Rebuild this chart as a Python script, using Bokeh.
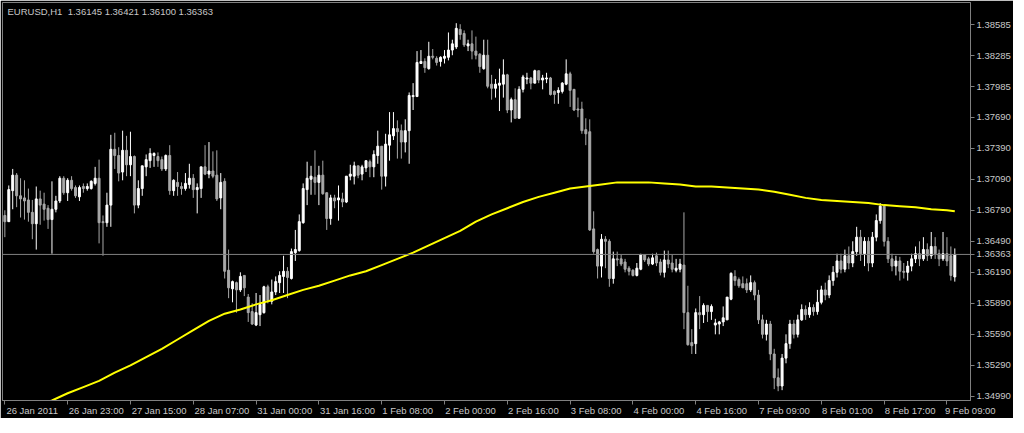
from bokeh.plotting import figure
from bokeh.models import (Range1d, FixedTicker, Span, Label, ColumnDataSource,
                          PrintfTickFormatter, LinearAxis)
from bokeh.embed import file_html
from bokeh.resources import INLINE

symbol = "EURUSD,H1"

opens = [1.3674, 1.3668, 1.3698, 1.3713, 1.3693, 1.3691, 1.3689, 1.3677, 1.3666, 1.3690,
         1.3685, 1.3681, 1.3670, 1.3680, 1.3688, 1.3710, 1.3696, 1.3708, 1.3701, 1.3692,
         1.3702, 1.3700, 1.3700, 1.3705, 1.3710, 1.3668, 1.3667, 1.3684, 1.3738, 1.3732,
         1.3716, 1.3737, 1.3723, 1.3731, 1.3684, 1.3700, 1.3721, 1.3727, 1.3732, 1.3731,
         1.3728, 1.3719, 1.3732, 1.3698, 1.3706, 1.3702, 1.3700, 1.3704, 1.3710, 1.3699,
         1.3700, 1.3721, 1.3714, 1.3717, 1.3713, 1.3691, 1.3707, 1.3621, 1.3603, 1.3609,
         1.3602, 1.3616, 1.3595, 1.3581, 1.3568, 1.3578, 1.3580, 1.3605, 1.3591, 1.3600,
         1.3609, 1.3615, 1.3620, 1.3613, 1.3638, 1.3640, 1.3667, 1.3699, 1.3709, 1.3711,
         1.3706, 1.3713, 1.3696, 1.3671, 1.3691, 1.3689, 1.3690, 1.3687, 1.3712, 1.3712,
         1.3722, 1.3714, 1.3720, 1.3726, 1.3721, 1.3732, 1.3741, 1.3712, 1.3742, 1.3751,
         1.3758, 1.3756, 1.3745, 1.3756, 1.3789, 1.3789, 1.3821, 1.3823, 1.3816, 1.3828,
         1.3826, 1.3823, 1.3826, 1.3827, 1.3834, 1.3837, 1.3854, 1.3850, 1.3838, 1.3840,
         1.3833, 1.3830, 1.3816, 1.3829, 1.3801, 1.3797, 1.3800, 1.3801, 1.3810, 1.3776,
         1.3786, 1.3768, 1.3796, 1.3806, 1.3807, 1.3802, 1.3814, 1.3805, 1.3806, 1.3807,
         1.3794, 1.3793, 1.3794, 1.3801, 1.3811, 1.3796, 1.3777, 1.3777, 1.3757, 1.3755,
         1.3661, 1.3641, 1.3625, 1.3651, 1.3649, 1.3613, 1.3632, 1.3632, 1.3629, 1.3623,
         1.3621, 1.3616, 1.3622, 1.3636, 1.3632, 1.3627, 1.3635, 1.3629, 1.3619, 1.3631,
         1.3628, 1.3621, 1.3622, 1.3626, 1.3580, 1.3551, 1.3550, 1.3580, 1.3578, 1.3587,
         1.3581, 1.3568, 1.3569, 1.3571, 1.3573, 1.3593, 1.3615, 1.3612, 1.3608, 1.3608,
         1.3602, 1.3609, 1.3597, 1.3573, 1.3559, 1.3569, 1.3540, 1.3517, 1.3509, 1.3536,
         1.3550, 1.3569, 1.3559, 1.3573, 1.3583, 1.3578, 1.3585, 1.3581, 1.3590, 1.3602,
         1.3597, 1.3611, 1.3619, 1.3630, 1.3622, 1.3635, 1.3628, 1.3639, 1.3653, 1.3637,
         1.3649, 1.3628, 1.3653, 1.3669, 1.3683, 1.3649, 1.3632, 1.3625, 1.3630, 1.3620,
         1.3619, 1.3625, 1.3632, 1.3637, 1.3632, 1.3641, 1.3635, 1.3644, 1.3637, 1.3632,
         1.3637, 1.3635, 1.36145]

highs = [1.3679, 1.3703, 1.3719, 1.3715, 1.3710, 1.3708, 1.3700, 1.3689, 1.3702, 1.3698,
         1.3696, 1.3684, 1.3707, 1.3693, 1.3712, 1.3712, 1.3710, 1.3712, 1.3703, 1.3703,
         1.3705, 1.3705, 1.3708, 1.3721, 1.3728, 1.3674, 1.3696, 1.3752, 1.3754, 1.3740,
         1.3756, 1.3751, 1.3755, 1.3732, 1.3708, 1.3722, 1.3733, 1.3739, 1.3735, 1.3735,
         1.3731, 1.3733, 1.3742, 1.3709, 1.3716, 1.3706, 1.3715, 1.3724, 1.3714, 1.3705,
         1.3721, 1.3742, 1.3745, 1.3736, 1.3737, 1.3715, 1.3710, 1.3641, 1.3611, 1.3610,
         1.3619, 1.3616, 1.3598, 1.3589, 1.3599, 1.3597, 1.3606, 1.3607, 1.3612, 1.3615,
         1.3620, 1.3635, 1.3624, 1.3642, 1.3660, 1.3675, 1.3705, 1.3726, 1.3722, 1.3737,
         1.3722, 1.3727, 1.3696, 1.3694, 1.3694, 1.3703, 1.3696, 1.3712, 1.3723, 1.3726,
         1.3722, 1.3723, 1.3727, 1.3728, 1.3737, 1.3756, 1.3741, 1.3753, 1.3774, 1.3774,
         1.3766, 1.3762, 1.3767, 1.3793, 1.3802, 1.3833, 1.3834, 1.3826, 1.3842, 1.3835,
         1.3828, 1.3828, 1.3834, 1.3851, 1.3844, 1.3860, 1.3859, 1.3853, 1.3844, 1.3853,
         1.3847, 1.3831, 1.3844, 1.3844, 1.3810, 1.3806, 1.3816, 1.3825, 1.3811, 1.3788,
         1.3797, 1.3799, 1.3810, 1.3812, 1.3808, 1.3815, 1.3814, 1.3810, 1.3812, 1.3808,
         1.3795, 1.3798, 1.3803, 1.3825, 1.3813, 1.3796, 1.3788, 1.3784, 1.3768, 1.3767,
         1.3678, 1.3642, 1.3656, 1.3654, 1.3651, 1.3639, 1.3639, 1.3636, 1.3632, 1.3625,
         1.3622, 1.3628, 1.3637, 1.3636, 1.3634, 1.3637, 1.3638, 1.3632, 1.3640, 1.3640,
         1.3636, 1.3632, 1.3632, 1.3677, 1.3606, 1.3564, 1.3584, 1.3596, 1.3589, 1.3587,
         1.3588, 1.3574, 1.3572, 1.3586, 1.3595, 1.3619, 1.3621, 1.3614, 1.3615, 1.3613,
         1.3616, 1.3611, 1.3602, 1.3578, 1.3573, 1.3572, 1.3545, 1.3526, 1.3540, 1.3559,
         1.3573, 1.3573, 1.3578, 1.3588, 1.3587, 1.3590, 1.3588, 1.3602, 1.3606, 1.3609,
         1.3616, 1.3625, 1.3637, 1.3637, 1.3641, 1.3644, 1.3649, 1.3663, 1.3660, 1.3653,
         1.3653, 1.3658, 1.3675, 1.3686, 1.3684, 1.3653, 1.3637, 1.3635, 1.3634, 1.3628,
         1.3630, 1.3637, 1.3644, 1.3649, 1.3653, 1.3647, 1.3658, 1.3653, 1.3641, 1.3658,
         1.3653, 1.3644, 1.36421]

lows = [1.3653, 1.3668, 1.3680, 1.3682, 1.3672, 1.3670, 1.3668, 1.3651, 1.3641, 1.3665,
        1.3669, 1.3661, 1.3637, 1.3677, 1.3686, 1.3694, 1.3688, 1.3698, 1.3691, 1.3688,
        1.3696, 1.3698, 1.3699, 1.3703, 1.3647, 1.3635, 1.3663, 1.3663, 1.3719, 1.3707,
        1.3708, 1.3712, 1.3712, 1.3676, 1.3681, 1.3693, 1.3712, 1.3720, 1.3721, 1.3721,
        1.3717, 1.3717, 1.3694, 1.3693, 1.3693, 1.3694, 1.3698, 1.3700, 1.3691, 1.3676,
        1.3691, 1.3713, 1.3710, 1.3710, 1.3688, 1.3680, 1.3613, 1.3594, 1.3590, 1.3580,
        1.3600, 1.3596, 1.3571, 1.3568, 1.3567, 1.3567, 1.3579, 1.3589, 1.3588, 1.3597,
        1.3599, 1.3599, 1.3594, 1.3612, 1.3630, 1.3639, 1.3666, 1.3684, 1.3694, 1.3694,
        1.3684, 1.3694, 1.3660, 1.3665, 1.3681, 1.3669, 1.3682, 1.3686, 1.3708, 1.3704,
        1.3710, 1.3708, 1.3716, 1.3711, 1.3711, 1.3724, 1.3699, 1.3702, 1.3727, 1.3747,
        1.3729, 1.3729, 1.3735, 1.3724, 1.3776, 1.3789, 1.3821, 1.3812, 1.3815, 1.3825,
        1.3819, 1.3818, 1.3821, 1.3824, 1.3829, 1.3835, 1.3844, 1.3837, 1.3833, 1.3825,
        1.3825, 1.3812, 1.3815, 1.3797, 1.3786, 1.3788, 1.3775, 1.3788, 1.3773, 1.3764,
        1.3768, 1.3768, 1.3793, 1.3801, 1.3796, 1.3802, 1.3802, 1.3796, 1.3802, 1.3790,
        1.3782, 1.3782, 1.3792, 1.3800, 1.3779, 1.3775, 1.3769, 1.3753, 1.3742, 1.3659,
        1.3637, 1.3613, 1.3614, 1.3623, 1.3605, 1.3608, 1.3625, 1.3625, 1.3619, 1.3616,
        1.3615, 1.3615, 1.3621, 1.3629, 1.3625, 1.3626, 1.3625, 1.3616, 1.3614, 1.3623,
        1.3619, 1.3619, 1.3619, 1.3564, 1.3548, 1.3540, 1.3540, 1.3564, 1.3570, 1.3571,
        1.3573, 1.3559, 1.3559, 1.3567, 1.3573, 1.3592, 1.3606, 1.3604, 1.3604, 1.3599,
        1.3600, 1.3592, 1.3569, 1.3555, 1.3553, 1.3534, 1.3506, 1.3504, 1.3505, 1.3531,
        1.3545, 1.3555, 1.3556, 1.3572, 1.3573, 1.3575, 1.3577, 1.3578, 1.3588, 1.3592,
        1.3594, 1.3606, 1.3614, 1.3618, 1.3619, 1.3622, 1.3624, 1.3635, 1.3630, 1.3625,
        1.3620, 1.3624, 1.3649, 1.3666, 1.3644, 1.3628, 1.3620, 1.3616, 1.3611, 1.3613,
        1.3611, 1.3620, 1.3628, 1.3625, 1.3630, 1.3630, 1.3632, 1.3632, 1.3625, 1.3630,
        1.3625, 1.3611, 1.36100]

closes = [1.3668, 1.3699, 1.3713, 1.3693, 1.3690, 1.3688, 1.3677, 1.3666, 1.3690, 1.3684,
          1.3680, 1.3670, 1.3680, 1.3688, 1.3710, 1.3696, 1.3708, 1.3700, 1.3693, 1.3701,
          1.3700, 1.3702, 1.3707, 1.3710, 1.3667, 1.3667, 1.3684, 1.3738, 1.3732, 1.3715,
          1.3737, 1.3723, 1.3731, 1.3684, 1.3700, 1.3722, 1.3728, 1.3734, 1.3734, 1.3727,
          1.3719, 1.3732, 1.3698, 1.3708, 1.3702, 1.3700, 1.3705, 1.3710, 1.3699, 1.3701,
          1.3721, 1.3714, 1.3717, 1.3712, 1.3690, 1.3706, 1.3620, 1.3604, 1.3610, 1.3602,
          1.3615, 1.3604, 1.3580, 1.3569, 1.3580, 1.3588, 1.3605, 1.3592, 1.3600, 1.3610,
          1.3616, 1.3620, 1.3614, 1.3639, 1.3641, 1.3668, 1.3700, 1.3710, 1.3712, 1.3706,
          1.3713, 1.3695, 1.3671, 1.3691, 1.3688, 1.3691, 1.3687, 1.3712, 1.3714, 1.3722,
          1.3713, 1.3721, 1.3727, 1.3721, 1.3733, 1.3741, 1.3712, 1.3743, 1.3752, 1.3758,
          1.3755, 1.3745, 1.3756, 1.3790, 1.3790, 1.3822, 1.3823, 1.3817, 1.3828, 1.3827,
          1.3822, 1.3827, 1.3828, 1.3834, 1.3840, 1.3855, 1.3849, 1.3839, 1.3840, 1.3833,
          1.3829, 1.3818, 1.3829, 1.3799, 1.3797, 1.3801, 1.3802, 1.3810, 1.3776, 1.3786,
          1.3768, 1.3796, 1.3808, 1.3807, 1.3802, 1.3814, 1.3805, 1.3807, 1.3807, 1.3791,
          1.3791, 1.3795, 1.3802, 1.3811, 1.3795, 1.3776, 1.3776, 1.3756, 1.3753, 1.3660,
          1.3639, 1.3625, 1.3651, 1.3649, 1.3613, 1.3632, 1.3631, 1.3627, 1.3622, 1.3620,
          1.3616, 1.3623, 1.3636, 1.3631, 1.3627, 1.3633, 1.3628, 1.3619, 1.3631, 1.3627,
          1.3622, 1.3623, 1.3627, 1.3580, 1.3549, 1.3548, 1.3580, 1.3578, 1.3587, 1.3581,
          1.3586, 1.3570, 1.3571, 1.3575, 1.3595, 1.3618, 1.3611, 1.3606, 1.3604, 1.3602,
          1.3609, 1.3597, 1.3573, 1.3559, 1.3569, 1.3540, 1.3517, 1.3509, 1.3536, 1.3550,
          1.3569, 1.3559, 1.3573, 1.3583, 1.3578, 1.3585, 1.3581, 1.3590, 1.3602, 1.3597,
          1.3611, 1.3619, 1.3630, 1.3622, 1.3635, 1.3628, 1.3639, 1.3653, 1.3637, 1.3649,
          1.3628, 1.3653, 1.3669, 1.3683, 1.3649, 1.3632, 1.3625, 1.3630, 1.3620, 1.3619,
          1.3625, 1.3632, 1.3637, 1.3632, 1.3641, 1.3635, 1.3644, 1.3637, 1.3632, 1.3637,
          1.3630, 1.3616, 1.36363]

ma_index = [8, 12, 16, 20, 24, 28, 32, 36, 40, 44, 48, 52, 56, 60, 64, 68, 72, 76, 80, 84,
            88, 92, 96, 100, 104, 108, 112, 116, 120, 124, 128, 132, 136, 140, 144, 148,
            152, 156, 160, 164, 168, 172, 176, 180, 184, 188, 192, 196, 200, 204, 208, 212,
            216, 220, 224, 228, 232, 236, 240, 242]
ma_values = [1.3489, 1.3495, 1.3502, 1.3508, 1.3514, 1.3522, 1.3529, 1.3537, 1.3545, 1.3554,
             1.3563, 1.3572, 1.3579, 1.3583, 1.3588, 1.3592, 1.3597, 1.3602, 1.3606, 1.3611,
             1.3616, 1.3620, 1.3626, 1.3632, 1.3638, 1.3645, 1.3652, 1.3659, 1.3668, 1.3675,
             1.3681, 1.3687, 1.3692, 1.3696, 1.3700, 1.3702, 1.3704, 1.3706, 1.3706, 1.3706,
             1.3705, 1.3704, 1.3702, 1.3702, 1.3701, 1.3700, 1.3699, 1.3697, 1.3694, 1.3691,
             1.3689, 1.3688, 1.3687, 1.3686, 1.3684, 1.3683, 1.3682, 1.3680, 1.3679, 1.3678]

price_ticks = [1.38585, 1.38285, 1.37985, 1.37690, 1.37390, 1.37090, 1.36790,
               1.36490, 1.36190, 1.35890, 1.35590, 1.35290, 1.34990]

time_labels = ["26 Jan 2011", "26 Jan 23:00", "27 Jan 15:00", "28 Jan 07:00",
               "31 Jan 00:00", "31 Jan 16:00", "1 Feb 08:00", "2 Feb 00:00",
               "2 Feb 16:00", "3 Feb 08:00", "4 Feb 00:00", "4 Feb 16:00",
               "7 Feb 09:00", "8 Feb 01:00", "8 Feb 17:00", "9 Feb 09:00"]
time_ticks = [0, 16, 32, 48, 64, 80, 96, 112, 128, 144, 160, 176, 192, 208, 224, 240]

FONT = "Liberation Sans"
FSIZE = 9.5
TXT = "#c8c8c8"
GRAY = "#808080"
BULL = "#ffffff"
BEAR = "#a8a8a8"

n = len(closes)
src = ColumnDataSource(dict(
    x=list(range(n)),
    low=lows, high=highs,
    top=[max(o, c) for o, c in zip(opens, closes)],
    bottom=[min(o, c) for o, c in zip(opens, closes)],
    color=[BULL if c >= o else BEAR for o, c in zip(opens, closes)],
))

X0, X1 = -0.6, 246.0
FRAME_W, FRAME_H = 968, 398
x_rng = Range1d(X0, X1)
y_rng = Range1d(1.3495, 1.3880)

p = figure(frame_width=FRAME_W, frame_height=FRAME_H, output_backend="svg",
           toolbar_location=None, x_range=x_rng, y_range=y_rng, y_axis_location="right",
           background_fill_color="black", border_fill_color="black",
           min_border_left=2, min_border_top=2, min_border_right=2, min_border_bottom=2)
p.outline_line_color = GRAY
p.outline_line_width = 1
p.xgrid.visible = False
p.ygrid.visible = False

p.segment(x0="x", y0="low", x1="x", y1="high", line_color="color", line_width=1, source=src)
p.vbar(x="x", width=0.5, top="top", bottom="bottom", fill_color="color",
       line_color="color", line_width=1, source=src)

p.add_layout(Span(location=closes[-1], dimension="width", line_color=GRAY, line_width=1))

p.line(ma_index, ma_values, line_color="#ffff00", line_width=2)

# price axis (right), with the current price listed among the ticks
ya = p.yaxis[0]
ya.ticker = FixedTicker(ticks=price_ticks + [closes[-1]])
ya.formatter = PrintfTickFormatter(format="%.5f")

# time axis: first axis draws the tick marks only
xa = p.xaxis[0]
xa.ticker = FixedTicker(ticks=time_ticks)
for ax in (xa, ya):
    ax.axis_line_color = GRAY
    ax.major_tick_line_color = GRAY
    ax.minor_tick_line_color = None
    ax.major_tick_out = 4
    ax.major_tick_in = 0
    ax.major_label_standoff = 2
    ax.major_label_text_color = TXT
    ax.major_label_text_font = FONT
    ax.major_label_text_font_size = f"{FSIZE}px"
xa.major_label_text_color = None
xa.major_label_standoff = 0


def text_w(s):
    w = 0.0
    for ch in s:
        if ch.isdigit():
            w += 0.556
        elif ch in " :":
            w += 0.278
        else:
            w += 0.55
    return w * FSIZE


# second axis carries the labels, shifted so each one starts at its tick (MT4 style)
ppu = FRAME_W / (X1 - X0)
label_pos = [round(min(t + (text_w(lab) / 2 + 1) / ppu, X1 - 0.05), 3)
             for t, lab in zip(time_ticks, time_labels)]
xa2 = LinearAxis(ticker=FixedTicker(ticks=label_pos),
                 major_label_overrides={pos: lab for pos, lab in zip(label_pos, time_labels)},
                 axis_line_color=None, major_tick_line_color=None, minor_tick_line_color=None,
                 major_tick_out=0, major_tick_in=0, major_label_standoff=0,
                 major_label_text_color=TXT, major_label_text_font=FONT,
                 major_label_text_font_size=f"{FSIZE}px")
p.add_layout(xa2, "below")

header = (f"{symbol}\u00a0\u00a0{opens[-1]:.5f} {highs[-1]:.5f} "
          f"{lows[-1]:.5f} {closes[-1]:.5f}")
p.add_layout(Label(x=X0, y=y_rng.end, x_offset=5, y_offset=-3, text=header,
                   text_align="left", text_baseline="top", text_color=TXT,
                   text_font=FONT, text_font_size=f"{FSIZE}px"))

open("out.html", "w").write(file_html(p, INLINE))
